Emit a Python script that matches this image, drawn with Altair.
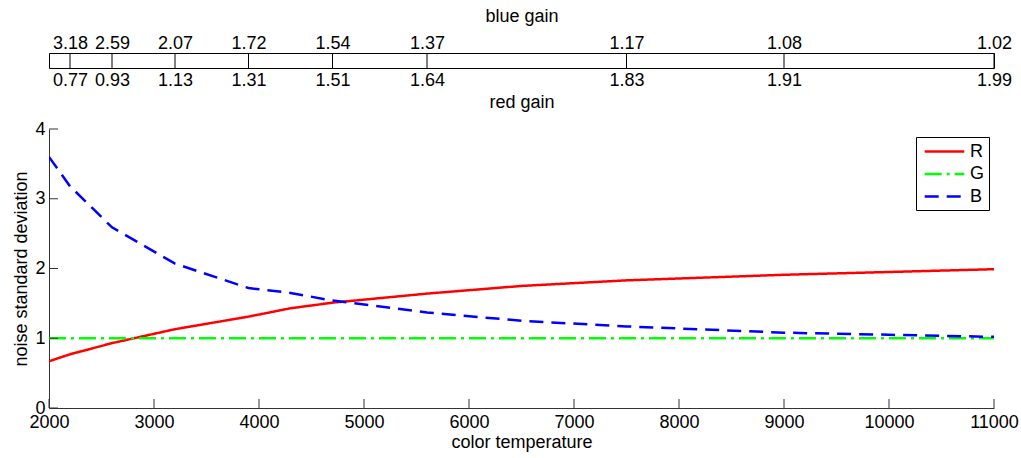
import altair as alt
import pandas as pd

# ---- data ----
temps = [2000, 2200, 2600, 3200, 3900, 4300, 4700, 5600, 6500, 7500, 9000, 11000]
red_sd = [0.67, 0.77, 0.93, 1.13, 1.31, 1.43, 1.51, 1.64, 1.75, 1.83, 1.91, 1.99]
green_sd = [1.0] * len(temps)
blue_sd = [3.60, 3.18, 2.59, 2.07, 1.72, 1.65, 1.54, 1.37, 1.25, 1.17, 1.08, 1.02]

gain_temps = [2200, 2600, 3200, 3900, 4700, 5600, 7500, 9000, 11000]
blue_gain = ["3.18", "2.59", "2.07", "1.72", "1.54", "1.37", "1.17", "1.08", "1.02"]
red_gain = ["0.77", "0.93", "1.13", "1.31", "1.51", "1.64", "1.83", "1.91", "1.99"]

x_ticks = list(range(2000, 11001, 1000))
y_ticks = [0, 1, 2, 3, 4]

FONT = "Liberation Sans"
FS = 18
W = 945
H_MAIN = 279
H_STRIP = 15
AX = "#333333"

rows = []
for name, vals in [("R", red_sd), ("G", green_sd), ("B", blue_sd)]:
    for t, v in zip(temps, vals):
        rows.append({"temp": t, "sd": v, "series": name})
df = pd.DataFrame(rows)

xscale = alt.Scale(domain=[2000, 11000], nice=False, zero=False)
yscale = alt.Scale(domain=[0, 4], nice=False)
sscale = alt.Scale(domain=[0, 1], nice=False)


def label_expr(labels):
    expr = "''"
    for t, l in reversed(list(zip(gain_temps, labels))):
        expr = f"datum.value == {t} ? '{l}' : ({expr})"
    return expr


gdf = pd.DataFrame({"temp": gain_temps, "bg": blue_gain, "rg": red_gain})

common_axis = dict(ticks=False, domain=False, grid=False,
                   labelFont=FONT, labelFontSize=FS, titleFont=FONT, titleFontSize=FS,
                   titleFontWeight="normal", labelColor="black", titleColor="black",
                   labelFlush=False)

strip_rules = alt.Chart(gdf).mark_rule(color="black", strokeWidth=1).encode(
    x=alt.X("temp:Q", scale=xscale,
            axis=alt.Axis(orient="top", values=gain_temps, labelExpr=label_expr(blue_gain),
                          title="blue gain", labelPadding=1, titlePadding=9, **common_axis)),
    y=alt.datum(0, scale=sscale, axis=None),
    y2=alt.datum(1),
)
strip_bottom = alt.Chart(gdf).mark_rule(opacity=0).encode(
    x=alt.X("temp:Q", scale=xscale,
            axis=alt.Axis(orient="bottom", values=gain_temps, labelExpr=label_expr(red_gain),
                          title="red gain", labelPadding=3, titlePadding=4, **common_axis)),
    y=alt.datum(0, scale=sscale, axis=None),
    y2=alt.datum(1),
)
strip = alt.layer(strip_rules, strip_bottom).resolve_axis(x="independent").properties(
    width=W, height=H_STRIP, view=alt.ViewBackground(stroke="black", strokeWidth=1)
)

color_scale = alt.Scale(domain=["R", "G", "B"], range=["#ff0000", "#00ff00", "#0000ff"])
dash_scale = alt.Scale(domain=["R", "G", "B"], range=[[1, 0], [17, 5, 3, 5], [14, 8]])

legend = alt.Legend(
    title=None, orient="none", legendX=867, legendY=8,
    strokeColor="black", fillColor="white", padding=4,
    symbolType="M-2.2,0H2.2", symbolSize=324, symbolStrokeWidth=2.5,
    labelFont=FONT, labelFontSize=FS, labelColor="black", rowPadding=2.5,
    symbolOffset=14, labelOffset=15,
)

lines = alt.Chart(df).mark_line(strokeWidth=2.5, clip=True).encode(
    x=alt.X("temp:Q", scale=xscale,
            axis=alt.Axis(values=x_ticks, format="d", title="color temperature",
                          ticks=False, grid=False, domainColor=AX, domainWidth=1,
                          labelFont=FONT, labelFontSize=FS, titleFont=FONT, titleFontSize=FS,
                          titleFontWeight="normal", labelPadding=5, titlePadding=2,
                          labelColor="black", titleColor="black", labelFlush=False)),
    y=alt.Y("sd:Q", scale=yscale,
            axis=alt.Axis(values=y_ticks, format="d", title="noise standard deviation",
                          ticks=False, grid=False, domainColor=AX, domainWidth=1,
                          labelFont=FONT, labelFontSize=FS, titleFont=FONT, titleFontSize=FS,
                          titleFontWeight="normal", labelPadding=4, titlePadding=4,
                          labelColor="black", titleColor="black", labelFlush=False)),
    color=alt.Color("series:N", scale=color_scale, legend=legend),
    strokeDash=alt.StrokeDash("series:N", scale=dash_scale, legend=legend),
    order=alt.Order("temp:Q"),
)

xt = pd.DataFrame({"t": x_ticks})
yt = pd.DataFrame({"v": y_ticks})
xtick_marks = alt.Chart(xt).mark_rule(color=AX, strokeWidth=1).encode(
    x=alt.X("t:Q", scale=xscale), y=alt.value(H_MAIN), y2=alt.value(H_MAIN - 9)
)
ytick_marks = alt.Chart(yt).mark_rule(color=AX, strokeWidth=1).encode(
    y=alt.Y("v:Q", scale=yscale), x=alt.value(0), x2=alt.value(9)
)

main = alt.layer(lines, xtick_marks, ytick_marks).properties(
    width=W, height=H_MAIN, view=alt.ViewBackground(stroke=None)
)

chart = alt.vconcat(strip, main, spacing=8).resolve_scale(
    color="independent", strokeDash="independent"
).properties(padding={"left": 12, "top": 6, "right": 0, "bottom": 2})

chart.save("out.html", embed_options={"renderer": "svg", "actions": False})
